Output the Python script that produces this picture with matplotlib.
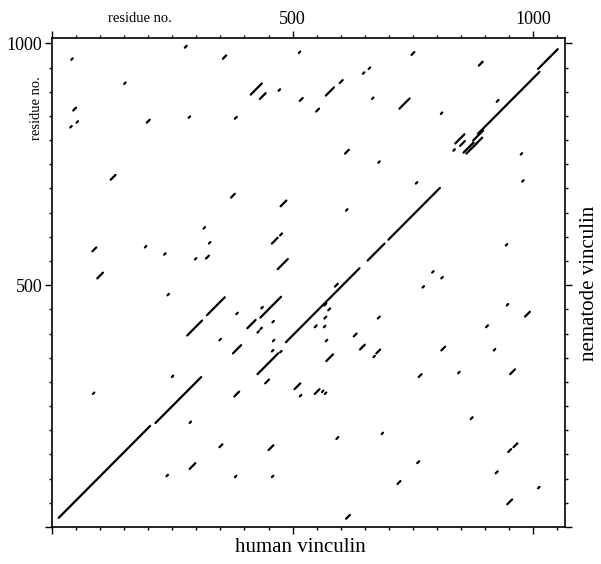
import matplotlib
matplotlib.use("Agg")
import matplotlib.pyplot as plt
from matplotlib.ticker import MultipleLocator, FixedLocator

# dot-plot of human vinculin (x) against nematode vinculin (y)
# each diagonal run: start residue in human, start residue in nematode, run length
human_start = [14, 215, 427, 486, 656, 699, 885, 1010,
               838, 848, 855, 861, 871, 875, 834,
               40, 276, 355, 150, 413, 432, 471, 44, 38, 51, 197, 284, 380,
               122, 372, 475, 315, 326, 457, 474, 84, 193, 233, 297, 320, 469, 94,
               513, 747, 887, 646, 658, 569, 598, 515, 549, 665, 722, 924, 808,
               974, 609, 678, 756, 977, 611, 943, 790, 809, 770,
               281, 322, 406, 427, 433, 433, 435, 240, 383, 348, 376,
               458, 459, 457, 474, 443, 379, 504, 515, 249, 85, 286, 348, 450, 286,
               238, 380, 457, 588, 574, 566, 546, 565, 677, 945, 983, 902, 627, 569,
               640, 674, 668, 809, 918, 570, 762, 844, 952, 546, 561, 567, 870,
               591, 685, 948, 959, 759, 922, 718, 1010, 946, 611, 566]
nema_start = [19, 215, 316, 382, 551, 594, 813, 947,
              793, 788, 774, 772, 782, 799, 778,
              966, 991, 968, 916, 894, 885, 902, 861, 826, 836, 836, 846, 844,
              718, 681, 663, 617, 586, 586, 603, 570, 578, 563, 553, 555, 533, 514,
              980, 976, 954, 937, 947, 892, 918, 881, 859, 885, 865, 879, 854,
              770, 772, 753, 710, 714, 654, 582, 526, 514, 495,
              396, 438, 411, 402, 409, 433, 452, 479, 440, 386, 359,
              423, 384, 363, 361, 297, 270, 285, 270, 310, 275, 215, 165, 159, 120,
              105, 103, 103, 497, 448, 431, 413, 413, 431, 458, 435, 413, 394, 384,
              367, 359, 351, 365, 365, 343, 310, 318, 316, 275, 279, 275, 223,
              182, 192, 155, 165, 132, 111, 89, 80, 47, 17, 458]
seg_len = [190, 95, 43, 153, 35, 107, 128, 41,
           19, 10, 21, 23, 23, 21, 3,
           3, 4, 7, 3, 23, 12, 3, 6, 3, 3, 6, 3, 4,
           10, 8, 12, 3, 3, 12, 4, 8, 3, 3, 3, 6, 21, 12,
           3, 6, 8, 3, 3, 17, 6, 6, 6, 3, 21, 4, 3,
           3, 8, 3, 3, 3, 3, 3, 3, 3, 3,
           31, 37, 17, 3, 3, 43, 3, 3, 3, 3, 17,
           3, 3, 3, 3, 8, 10, 12, 3, 3, 3, 3, 6, 10, 12,
           3, 3, 3, 6, 4, 4, 4, 3, 4, 3, 10, 4, 6, 3,
           10, 8, 3, 8, 3, 14, 6, 3, 10, 10, 3, 3, 4,
           4, 3, 6, 8, 4, 4, 6, 3, 10, 8, 4]

human_len = 1066
nema_len = 1011

plt.rcParams['font.family'] = ['Liberation Serif', 'DejaVu Serif']

fig = plt.figure(figsize=(6.01, 5.64), dpi=100)
ax = fig.add_axes([0.0865, 0.0656, 0.8536, 0.867])

for hx, ny, n in zip(human_start, nema_start, seg_len):
    ax.plot([hx, hx + n], [ny, ny + n], color='black', lw=1.6,
            solid_capstyle='round')

ax.set_xlim(0, human_len)
ax.set_ylim(0, nema_len)

for s in ax.spines.values():
    s.set_linewidth(1.2)

# ticks every 50 residues, longer ones at 0 / 500 / 1000
ax.xaxis.set_major_locator(FixedLocator([0, 500, 1000]))
ax.xaxis.set_minor_locator(MultipleLocator(50))
ax.yaxis.set_major_locator(FixedLocator([0, 500, 1000]))
ax.yaxis.set_minor_locator(MultipleLocator(50))
ax.tick_params(which='both', direction='out', top=True, bottom=True,
               left=True, right=True, width=1.0, labelsize=13, pad=2)
ax.tick_params(which='major', length=5)
ax.tick_params(which='minor', length=2.5)
ax.tick_params(axis='x', labeltop=True, labelbottom=False)
ax.tick_params(axis='y', labelleft=True, labelright=False)
ax.set_xticklabels(['', '500', '1000'])
ax.set_yticklabels(['', '500', '1000'])

fig.text(140 / 601, 1 - 19 / 564, 'residue no.', fontsize=10.5,
         ha='center', va='center')
fig.text(37 / 601, 1 - 108 / 564, 'residue no.', fontsize=10.5,
         ha='center', va='center', rotation=90)
fig.text(300 / 601, 1 - 548 / 564, 'human vinculin', fontsize=15,
         ha='center', va='center')
fig.text(590 / 601, 1 - 283 / 564, 'nematode vinculin', fontsize=15,
         ha='center', va='center', rotation=90)

fig.savefig('out.png', dpi=100)
